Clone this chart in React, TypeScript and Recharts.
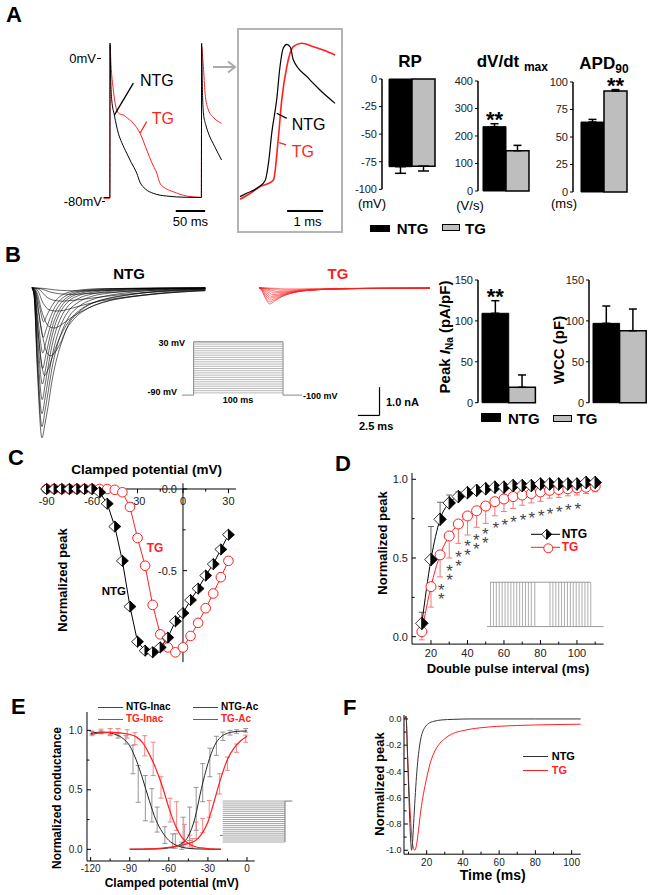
import React from "react";
import {
  ComposedChart,
  BarChart,
  Bar,
  Line,
  Scatter,
  XAxis,
  YAxis,
  ErrorBar,
  ReferenceLine,
  LabelList,
} from "recharts";

const FONT = "'Liberation Sans', Arial, Helvetica, sans-serif";
const RED = "#ff1f1f";
const PINK = "#f07878";
const BAR_GRAY = "#bebebe";

type P = [number, number];
const pts = (a: P[]) => a.map(([x, y]) => ({ x, y }));
const errPts = (a: number[][]) => a.map(([x, y, e]) => ({ x, y, e }));

// ---------- A: action potentials (ms, mV) ----------
const apNtg: P[] = [[-11, -77.5], [-0.3, -77.5], [0, 8.3], [1, -10], [2.9, -23.3], [7.3, -31.7], [14.1, -41.8], [20, -47], [28.4, -52.9], [36, -58], [45.5, -64], [51, -69], [60, -72.7], [73.8, -75.2], [96.6, -76.7], [130.7, -77.4], [155.6, -77.5], [156, 8.2], [157, -12], [159, -30.5], [163, -37], [167.5, -41.7], [178, -49], [190, -56.7]];
const apTg: P[] = [[-11, -78], [-0.3, -78], [0, 7], [1.7, -3.9], [5.6, -17.8], [11.4, -28.9], [16, -31], [22.7, -31.7], [30, -33.5], [39.7, -36.3], [51.1, -41.8], [62.5, -51.1], [71, -58], [79.6, -64], [85.2, -69.6], [95, -72.5], [107.8, -74.3], [130.7, -76.7], [155.6, -77.4], [156, 6.3], [159, -4.8], [161.8, -19.4], [167.5, -28.9], [177, -33.3], [190, -36.3]];
const insetNtg: P[] = [[0, -77], [0.2, -75], [0.5, -72], [0.7, -68], [0.8, -57], [0.88, -42], [1.02, -23], [1.11, -5], [1.2, 5.4], [1.3, 7.6], [1.4, 6], [1.48, -1], [1.86, -10.4], [2.22, -17.8], [2.64, -25.2]];
const insetTg: P[] = [[0, -78.5], [0.3, -75], [0.6, -71], [0.75, -70], [0.93, -67.8], [1.06, -45.6], [1.16, -23.3], [1.3, -4.8], [1.48, 6.3], [1.71, 8.2], [2.04, 6.3], [2.31, 4.4], [2.64, 1.7]];

// bar summaries [NTG, TG]
const rpValues = [-79.5, -79];
const rpErrors = [6, 4.4];
const dvdtValues = [234, 146.5];
const dvdtErrors = [10.7, 19.5];
const apdValues = [63.6, 91.8];
const apdErrors = [2.4, 1.3];
const peakValues = [109.3, 18.8];
const peakErrors = [15.4, 15.1];
const wccValues = [97, 88];
const wccErrors = [21.2, 26.5];

// ---------- B: Na current families (ms, nA) ----------
const ntgCurrents: P[][] = [
  [[0, 0], [0.25, -0.3], [0.6, -2.8], [1.15, -5.3], [1.5, -4.8], [1.85, -4.2], [2.3, -3.3], [2.9, -2.45], [3.5, -1.85], [4.2, -1.3], [5.4, -0.86], [6.9, -0.55], [8.8, -0.38], [10.8, -0.27], [13, -0.17], [16, -0.08], [20, -0.03]],
  [[0, 0], [0.25, -0.28], [0.6, -2.6], [1.15, -4.9], [1.5, -4.35], [1.85, -3.7], [2.3, -2.85], [2.9, -2.05], [3.5, -1.5], [4.2, -1.05], [5.4, -0.66], [6.9, -0.42], [8.8, -0.27], [10.8, -0.18], [13, -0.11], [16, -0.05], [20, -0.02]],
  [[0, 0], [0.25, -0.25], [0.6, -2.35], [1.15, -4.45], [1.5, -3.9], [1.85, -3.25], [2.3, -2.45], [2.9, -1.7], [3.5, -1.2], [4.2, -0.82], [5.4, -0.5], [6.9, -0.3], [8.8, -0.19], [10.8, -0.12], [13, -0.07], [16, -0.03], [20, -0.01]],
  [[0, 0], [0.25, -0.22], [0.62, -2.05], [1.18, -3.95], [1.5, -3.45], [1.85, -2.8], [2.3, -2.05], [2.9, -1.38], [3.5, -0.95], [4.2, -0.63], [5.4, -0.37], [6.9, -0.22], [8.8, -0.13], [10.8, -0.08], [13, -0.05], [16, -0.02], [20, -0.01]],
  [[0, 0], [0.27, -0.2], [0.65, -1.75], [1.2, -3.4], [1.55, -2.9], [1.9, -2.3], [2.35, -1.65], [2.9, -1.1], [3.5, -0.74], [4.2, -0.48], [5.4, -0.27], [6.9, -0.16], [8.8, -0.09], [11, -0.05], [14, -0.02], [20, -0.01]],
  [[0, 0], [0.28, -0.17], [0.68, -1.45], [1.22, -2.85], [1.58, -2.4], [1.95, -1.88], [2.4, -1.32], [3, -0.86], [3.6, -0.56], [4.3, -0.36], [5.5, -0.2], [7, -0.11], [9, -0.06], [12, -0.03], [20, -0.01]],
  [[0, 0], [0.3, -0.14], [0.7, -1.15], [1.25, -2.3], [1.6, -1.92], [2, -1.48], [2.45, -1.02], [3.05, -0.65], [3.7, -0.42], [4.4, -0.27], [5.6, -0.14], [7.2, -0.08], [9.5, -0.04], [13, -0.02], [20, 0]],
  [[0, 0], [0.32, -0.1], [0.75, -0.85], [1.3, -1.75], [1.65, -1.45], [2.05, -1.1], [2.5, -0.76], [3.1, -0.48], [3.8, -0.3], [4.5, -0.19], [5.8, -0.1], [7.5, -0.05], [10, -0.025], [20, 0]],
  [[0, 0], [0.35, -0.07], [0.8, -0.58], [1.35, -1.2], [1.7, -0.98], [2.1, -0.74], [2.6, -0.5], [3.2, -0.31], [3.9, -0.19], [4.7, -0.12], [6, -0.06], [8, -0.03], [20, 0]],
  [[0, 0], [0.3, -0.18], [0.7, -1.55], [1.45, -3.1], [1.9, -2.85], [2.4, -2.4], [3, -1.9], [3.7, -1.45], [4.6, -1.05], [5.8, -0.72], [7.5, -0.48], [9.5, -0.32], [12, -0.21], [15, -0.12], [20, -0.05]],
  [[0, 0], [0.4, -0.15], [1, -1.3], [1.6, -2.2], [2.1, -2.4], [2.6, -2.3], [3.2, -2.0], [4, -1.45], [5, -1.05], [6.5, -0.72], [8.5, -0.48], [11, -0.33], [13, -0.25], [16, -0.15], [20, -0.08]],
  [[0, 0], [0.5, -0.12], [1.2, -0.9], [1.9, -1.35], [2.6, -1.42], [3.4, -1.3], [4.4, -1.08], [5.6, -0.85], [7.2, -0.62], [9, -0.45], [11.5, -0.32], [14, -0.23], [17, -0.15], [20, -0.1]],
  [[0, 0], [0.6, -0.08], [1.3, -0.55], [2, -0.78], [2.8, -0.82], [3.6, -0.8], [4.6, -0.72], [6, -0.6], [8, -0.46], [10.5, -0.34], [13, -0.25], [16, -0.17], [20, -0.1]],
  [[0, 0], [0.8, -0.05], [1.6, -0.3], [2.5, -0.44], [3.5, -0.47], [4.8, -0.44], [6.5, -0.38], [8.5, -0.3], [11, -0.22], [14, -0.15], [17, -0.1], [20, -0.07]],
  [[0, 0], [1, -0.03], [2, -0.14], [3.2, -0.21], [4.5, -0.23], [6.2, -0.21], [8.5, -0.17], [11, -0.13], [14.5, -0.09], [20, -0.05]],
  [[0, 0], [1.3, -0.02], [2.6, -0.07], [4, -0.1], [5.8, -0.11], [8, -0.1], [11, -0.08], [15, -0.05], [20, -0.03]],
];
const tgCurrents: P[][] = [
  [[0, 0], [0.3, -0.08], [0.75, -0.38], [1.23, -0.57], [1.8, -0.47], [2.6, -0.32], [3.6, -0.2], [5, -0.11], [7.5, -0.05], [12, -0.02], [19.7, -0.01]],
  [[0, 0], [0.3, -0.07], [0.75, -0.33], [1.25, -0.5], [1.85, -0.42], [2.7, -0.29], [3.8, -0.18], [5.2, -0.1], [8, -0.05], [12, -0.02], [19.7, -0.01]],
  [[0, 0], [0.32, -0.06], [0.8, -0.28], [1.3, -0.43], [1.9, -0.37], [2.8, -0.26], [4, -0.16], [5.5, -0.09], [8.5, -0.045], [13, -0.02], [19.7, -0.01]],
  [[0, 0], [0.35, -0.05], [0.85, -0.23], [1.35, -0.36], [2, -0.31], [3, -0.22], [4.2, -0.14], [6, -0.08], [9, -0.04], [13, -0.02], [19.7, -0.01]],
  [[0, 0], [0.4, -0.04], [0.9, -0.18], [1.45, -0.3], [2.2, -0.26], [3.3, -0.19], [4.6, -0.12], [6.5, -0.07], [9.5, -0.035], [14, -0.015], [19.7, -0.01]],
  [[0, 0], [0.45, -0.03], [1, -0.14], [1.6, -0.24], [2.4, -0.21], [3.6, -0.15], [5, -0.1], [7, -0.06], [10, -0.03], [15, -0.015], [19.7, -0.01]],
  [[0, 0], [0.5, -0.02], [1.15, -0.1], [1.8, -0.18], [2.7, -0.16], [4, -0.12], [5.6, -0.08], [8, -0.05], [11, -0.03], [16, -0.015], [19.7, -0.01]],
  [[0, 0], [0.6, -0.015], [1.3, -0.07], [2.1, -0.13], [3.1, -0.12], [4.5, -0.09], [6.5, -0.06], [9, -0.04], [13, -0.02], [19.7, -0.01]],
  [[0, 0], [0.8, -0.01], [1.6, -0.04], [2.5, -0.08], [3.6, -0.075], [5.2, -0.06], [7.5, -0.04], [11, -0.025], [15, -0.015], [19.7, -0.01]],
  [[0, 0], [1, -0.005], [2, -0.02], [3, -0.04], [4.3, -0.04], [6, -0.03], [9, -0.02], [14, -0.01], [19.7, -0.005]],
];
const vProtocolSteps = [-85, -80, -75, -70, -65, -60, -55, -50, -45, -40, -35, -30, -25, -20, -15, -10, -5, 0, 5, 10, 15, 20, 25, 30];
const vProtocolOutline: P[] = [[-13, -90], [0, -90], [0, 30], [100, 30], [100, -90], [121.4, -90]];

// ---------- C: I-V (mV, normalized) ----------
const cNtg: P[] = [[-90, 0], [-85, 0], [-80, 0], [-75, 0], [-70, 0], [-65, 0], [-60, 0], [-55, -0.02], [-50, -0.09], [-45, -0.23], [-40, -0.44], [-35, -0.72], [-30, -0.935], [-25, -0.99], [-20, -1.0], [-15, -0.97], [-10, -0.91], [-5, -0.81], [0, -0.76], [5, -0.68], [10, -0.61], [15, -0.53], [20, -0.46], [25, -0.37], [30, -0.28]];
const cTg: P[] = [[-90, 0], [-85, 0], [-80, 0], [-75, 0], [-70, 0], [-65, 0], [-60, 0], [-55, 0], [-50, 0], [-45, -0.005], [-40, -0.02], [-35, -0.11], [-30, -0.3], [-25, -0.47], [-20, -0.71], [-15, -0.89], [-10, -0.97], [-5, -1.0], [0, -0.97], [5, -0.9], [10, -0.82], [15, -0.73], [20, -0.64], [25, -0.54], [30, -0.44]];
const cTicksX = [-90, -60, -30, 0, 30];
const cMinorX = [-75, -45, -15, 15];
const cTicksY = [0, -0.5];
const cMinorY = [-0.25, -0.75];

// ---------- D: recovery (ms, normalized, sem) ----------
const dNtg = [[15, 0.085, 0.07], [20, 0.49, 0.21], [25, 0.746, 0.108], [30, 0.85, 0.05], [35, 0.89, 0.03], [40, 0.915, 0.02], [45, 0.93, 0.015], [50, 0.94, 0.015], [55, 0.95, 0.01], [60, 0.95, 0.01], [65, 0.96, 0.01], [70, 0.96, 0.01], [75, 0.96, 0.01], [80, 0.97, 0.01], [85, 0.97, 0.01], [90, 0.97, 0.01], [95, 0.97, 0.01], [100, 0.97, 0.01], [105, 0.98, 0.01], [110, 0.98, 0.01]];
const dTg = [[15, 0.032, 0.052], [20, 0.318, 0.13], [25, 0.52, 0.14], [30, 0.64, 0.14], [35, 0.716, 0.123], [40, 0.767, 0.121], [45, 0.8, 0.105], [50, 0.83, 0.11], [55, 0.858, 0.09], [60, 0.875, 0.08], [65, 0.89, 0.075], [70, 0.9, 0.065], [75, 0.91, 0.06], [80, 0.92, 0.06], [85, 0.93, 0.05], [90, 0.935, 0.05], [95, 0.94, 0.045], [100, 0.945, 0.045], [105, 0.95, 0.04], [110, 0.955, 0.035]];
const dStars = [[25.6, 0.29, 2], [30.2, 0.415, 2], [35.1, 0.5, 2], [40, 0.57, 2], [44.8, 0.61, 2], [49.8, 0.65, 2], [55.6, 0.716, 1], [60.5, 0.737, 1], [65.3, 0.752, 1], [70.5, 0.767, 1], [75.3, 0.78, 1], [80.5, 0.794, 1], [85.3, 0.805, 1], [90.3, 0.815, 1], [95.3, 0.83, 1], [100.5, 0.837, 1]];
const dPulseA = [3, 5.5, 8, 10.5, 13, 15.5, 18, 20.5, 23, 25.5, 28, 30.5, 33, 35.5, 38, 41];
const dPulseB = [54, 56.5, 59, 61.5, 64, 66.5, 69, 71.5, 74, 76.5, 79, 81.5, 84, 86.5, 89];

// ---------- E: steady-state curves (mV, normalized) ----------
const eNtgInac: P[] = [[-120, 0.975], [-115, 0.983], [-110, 0.985], [-105, 0.978], [-100, 0.962], [-95, 0.93], [-90, 0.87], [-85, 0.75], [-80, 0.59], [-75, 0.41], [-70, 0.25], [-65, 0.145], [-60, 0.075], [-55, 0.038], [-50, 0.018], [-45, 0.008], [-40, 0.004], [-30, 0.001], [-20, 0]];
const eTgInac: P[] = [[-120, 0.965], [-115, 0.975], [-110, 0.98], [-105, 0.982], [-100, 0.98], [-95, 0.975], [-90, 0.965], [-85, 0.945], [-80, 0.895], [-75, 0.8], [-70, 0.68], [-65, 0.53], [-60, 0.35], [-55, 0.2], [-50, 0.1], [-45, 0.05], [-40, 0.024], [-35, 0.012], [-30, 0.006], [-25, 0.003], [-20, 0.001]];
const eNtgAc: P[] = [[-90, 0], [-80, 0.001], [-70, 0.003], [-65, 0.006], [-60, 0.012], [-55, 0.025], [-50, 0.05], [-45, 0.11], [-40, 0.26], [-35, 0.51], [-30, 0.72], [-25, 0.87], [-20, 0.945], [-15, 0.975], [-10, 0.988], [-5, 0.993], [0, 0.995]];
const eTgAc: P[] = [[-90, 0.002], [-80, 0.003], [-70, 0.006], [-65, 0.01], [-60, 0.016], [-55, 0.025], [-50, 0.035], [-45, 0.05], [-40, 0.07], [-35, 0.125], [-30, 0.23], [-25, 0.41], [-20, 0.6], [-15, 0.755], [-10, 0.85], [-5, 0.91], [0, 0.95]];
const eNtgInacErr = [[-119, 0.98, 0.01], [-112, 0.985, 0.01], [-105, 0.97, 0.015], [-99, 0.955, 0.02], [-93, 0.92, 0.035], [-87.5, 0.755, 0.12], [-83.5, 0.55, 0.155], [-78, 0.43, 0.19], [-73, 0.37, 0.14], [-69, 0.25, 0.105], [-63, 0.12, 0.07], [-57, 0.07, 0.06], [-50, 0.03, 0.03]];
const eTgInacErr = [[-119, 0.975, 0.02], [-112, 0.99, 0.02], [-105, 0.99, 0.025], [-99, 0.985, 0.03], [-92, 0.97, 0.035], [-86, 0.93, 0.05], [-78.5, 0.87, 0.085], [-72, 0.76, 0.14], [-66, 0.52, 0.09], [-59, 0.33, 0.1], [-54, 0.28, 0.12], [-48, 0.13, 0.08], [-42, 0.05, 0.04]];
const eNtgAcErr = [[-55, 0.07, 0.06], [-49, 0.145, 0.125], [-44, 0.215, 0.14], [-39, 0.34, 0.18], [-34, 0.56, 0.16], [-28.5, 0.73, 0.12], [-23.5, 0.87, 0.08], [-18.5, 0.95, 0.035], [-13, 0.98, 0.02], [-8, 0.99, 0.015], [-1, 1.0, 0.015]];
const eTgAcErr = [[-44, 0.07, 0.05], [-39, 0.16, 0.07], [-34, 0.2, 0.06], [-29, 0.34, 0.07], [-21, 0.55, 0.085], [-15, 0.72, 0.056], [-8, 0.85, 0.035], [-1, 0.93, 0.03]];
const eProtocolLevels = [0, 0.05, 0.1, 0.15, 0.2, 0.25, 0.3, 0.35, 0.4, 0.45, 0.5, 0.55, 0.6, 0.65, 0.7, 0.75, 0.8, 0.85, 0.9, 0.95, 1];

// ---------- F: averaged current (ms, normalized) ----------
const fNtg: P[] = [[8, 0], [8.6, 0.02], [9.5, -0.3], [10.5, -0.7], [11.2, -0.93], [11.7, -1.0], [12.3, -0.92], [13, -0.75], [13.8, -0.56], [14.6, -0.4], [15.5, -0.27], [16.5, -0.17], [17.5, -0.11], [19, -0.065], [21, -0.035], [24, -0.018], [28, -0.008], [35, -0.003], [45, 0], [60, 0], [80, 0], [105, 0]];
const fTg: P[] = [[8, 0], [8.6, 0.02], [9.5, -0.28], [10.5, -0.6], [11.5, -0.84], [12.5, -0.97], [13.5, -1.0], [14.5, -0.95], [15.5, -0.85], [16.3, -0.75], [17.5, -0.63], [19.1, -0.51], [20.5, -0.42], [21.8, -0.345], [24, -0.26], [27.3, -0.185], [30, -0.15], [34.7, -0.11], [40, -0.089], [44, -0.078], [50, -0.067], [58.6, -0.057], [70, -0.05], [80, -0.046], [90, -0.043], [105, -0.04]];
const fTicksY = [-1, -0.8, -0.6, -0.4, -0.2, 0];
const fMinorY = [-0.9, -0.7, -0.5, -0.3, -0.1];

// ---------- helpers ----------
function T({ x, y, s = 12, b = false, c = "#000", a = "start", children }: any) {
  const tx = a === "middle" ? "-50%" : a === "end" ? "-100%" : "0";
  return (
    <div style={{ position: "absolute", left: x, top: y - 0.49 * s, fontSize: s, lineHeight: `${s}px`, fontWeight: b ? "bold" : "normal", color: c, whiteSpace: "nowrap", transform: `translateX(${tx})` }}>
      {children}
    </div>
  );
}

function RT({ x, y, s = 13, children }: any) {
  return (
    <div style={{ position: "absolute", left: x, top: y, fontSize: s, lineHeight: `${s}px`, fontWeight: "bold", whiteSpace: "nowrap", transform: "translate(-50%,-50%) rotate(-90deg)" }}>
      {children}
    </div>
  );
}

function HLine({ x, y, w, c = "#000", h = 1 }: any) {
  return <div style={{ position: "absolute", left: x, top: y - h / 2, width: w, height: h, background: c }} />;
}

function HalfDiamond({ cx, cy, w = 6, h = 6 }: any) {
  if (cx == null || cy == null) return null;
  return (
    <g>
      <polygon points={`${cx},${cy - h} ${cx - w},${cy} ${cx},${cy + h}`} fill="#fff" stroke="#000" strokeWidth={0.8} />
      <polygon points={`${cx},${cy - h} ${cx + w},${cy} ${cx},${cy + h}`} fill="#000" stroke="#000" strokeWidth={0.8} />
    </g>
  );
}

function OpenCircle({ cx, cy, r = 5 }: any) {
  if (cx == null || cy == null) return null;
  return <circle cx={cx} cy={cy} r={r} fill="#fff" stroke={RED} strokeWidth={1} />;
}

const findMajor = (arr: number[], v: number, tol: number) => arr.find((m) => Math.abs(m - v) < tol);

function xTick(axisY: number, major: number[], tol: number, fs: number, lab: number, fmt: (v: number) => string) {
  return (p: any) => {
    const m = findMajor(major, Number(p.payload.value), tol);
    const big = m !== undefined;
    return (
      <g>
        <line x1={p.x} x2={p.x} y1={axisY} y2={axisY - (big ? 4 : 2.5)} stroke="#000" strokeWidth={1} />
        {big ? (
          <text x={p.x} y={axisY + lab} textAnchor="middle" fontSize={fs} fill="#222" fontFamily={FONT}>
            {fmt(m as number)}
          </text>
        ) : null}
      </g>
    );
  };
}

function yTick(axisX: number, major: number[], tol: number, fs: number, gap: number, fmt: (v: number) => string) {
  return (p: any) => {
    const m = findMajor(major, Number(p.payload.value), tol);
    const big = m !== undefined;
    return (
      <g>
        <line x1={axisX} x2={axisX + (big ? 4 : 2.5)} y1={p.y} y2={p.y} stroke="#000" strokeWidth={1} />
        {big ? (
          <text x={axisX - gap} y={p.y + fs * 0.36} textAnchor="end" fontSize={fs} fill="#222" fontFamily={FONT}>
            {fmt(m as number)}
          </text>
        ) : null}
      </g>
    );
  };
}

// chart with hidden axes; plot area placed at (left, top), padded so marks may overflow
function Plot({ left, top, w, h, xd, yd, pad = 14, children }: any) {
  return (
    <div style={{ position: "absolute", left: left - pad, top: top - pad }}>
      <ComposedChart width={w + 2 * pad} height={h + 2 * pad} margin={{ top: pad, right: pad, bottom: pad, left: pad }}>
        <XAxis type="number" dataKey="x" domain={xd} hide />
        <YAxis type="number" domain={yd} hide />
        {children}
      </ComposedChart>
    </div>
  );
}

function BarPanel({ x, y, w, h, domain, ticks, values, errors, sigs = ["", ""], sigOffset = [0, 0], barSize, down = false, capW = 4 }: any) {
  const yw = 30;
  const mt = 24;
  const mb = 8;
  const mr = 3;
  const data = [
    {
      g: "v",
      ntg: values[0],
      tg: values[1],
      ntgErr: down ? [errors[0], 0] : [0, errors[0]],
      tgErr: down ? [errors[1], 0] : [0, errors[1]],
      ntgSig: sigs[0],
      tgSig: sigs[1],
    },
  ];
  return (
    <div style={{ position: "absolute", left: x - yw, top: y - mt }}>
      <BarChart width={yw + w + mr} height={h + mt + mb} data={data} margin={{ top: mt, right: mr, bottom: mb, left: 0 }} barGap={0}>
        <XAxis dataKey="g" orientation={down ? "top" : "bottom"} height={0} tick={false} tickLine={false} axisLine={{ stroke: "#000", strokeWidth: 1.5 }} />
        <YAxis type="number" domain={domain} ticks={ticks} interval={0} width={yw} tickSize={3} tickMargin={2} tick={{ fontSize: 11, fill: "#222", fontFamily: FONT }} axisLine={{ stroke: "#000", strokeWidth: 1.5 }} tickLine={{ stroke: "#000" }} />
        <Bar dataKey="ntg" fill="#000" stroke="#000" strokeWidth={1} barSize={barSize} isAnimationActive={false}>
          <ErrorBar dataKey="ntgErr" width={capW} stroke="#000" strokeWidth={1.5} direction="y" />
          <LabelList dataKey="ntgSig" position="top" offset={sigOffset[0]} fontSize={22} fontWeight="bold" fill="#000" fontFamily={FONT} />
        </Bar>
        <Bar dataKey="tg" fill={BAR_GRAY} stroke="#000" strokeWidth={1.5} barSize={barSize} isAnimationActive={false}>
          <ErrorBar dataKey="tgErr" width={capW} stroke="#000" strokeWidth={1.5} direction="y" />
          <LabelList dataKey="tgSig" position="top" offset={sigOffset[1]} fontSize={22} fontWeight="bold" fill="#000" fontFamily={FONT} />
        </Bar>
      </BarChart>
    </div>
  );
}

const textMark = (dx: number, dy: number, anchor: string, fs: number, color = "#222") => (p: any) => (
  <text x={p.cx + dx} y={p.cy + dy} textAnchor={anchor} fontSize={fs} fill={color} fontFamily={FONT}>
    {p.payload.label}
  </text>
);

// significance marks: stacked pair or single asterisk, one text element each
const StarMark = (p: any) => {
  const fs = 17;
  const off = fs * 0.58;
  const two = p.payload.n === 2;
  return (
    <text x={p.cx} y={p.cy + off - (two ? 4.5 : 0)} textAnchor="middle" fontSize={fs} fill="#444" fontFamily={FONT}>
      <tspan x={p.cx}>*</tspan>
      {two ? (
        <tspan x={p.cx} dy={9}>
          *
        </tspan>
      ) : null}
    </text>
  );
};

const fmt1 = (v: number) => v.toFixed(1);
const fmt0 = (v: number) => String(v);
const seg = (x1: number, y1: number, x2: number, y2: number) => [{ x: x1, y: y1 }, { x: x2, y: y2 }];
const noShape = () => <g />;

export default function App() {
  return (
    <div style={{ position: "absolute", left: 0, top: 0, width: 662, height: 895, background: "#fff", fontFamily: FONT, overflow: "hidden" }}>
      {/* panel letters */}
      <T x={6} y={15} s={22} b>A</T>
      <T x={5} y={255} s={22} b>B</T>
      <T x={8} y={458} s={22} b>C</T>
      <T x={335} y={464} s={22} b>D</T>
      <T x={11} y={707} s={22} b>E</T>
      <T x={343} y={708} s={22} b>F</T>

      {/* ===== A: action potentials ===== */}
      <Plot left={102.96} top={40} w={119.75} h={180} xd={[-12, 192]} yd={[-90, 10]}>
        <Line data={pts(apTg)} dataKey="y" type="monotone" stroke={RED} strokeWidth={1} dot={false} isAnimationActive={false} />
        <Line data={pts(apNtg)} dataKey="y" type="monotone" stroke="#000" strokeWidth={1} dot={false} isAnimationActive={false} />
        <ReferenceLine segment={seg(7.3, -31.7, 39.7, -14)} stroke="#000" strokeWidth={1.3} ifOverflow="visible" />
        <ReferenceLine segment={seg(51.1, -41.8, 62.5, -35.3)} stroke={RED} strokeWidth={1.3} ifOverflow="visible" />
        <ReferenceLine segment={seg(112, -85, 162, -85)} stroke="#000" strokeWidth={2} ifOverflow="visible" />
      </Plot>
      <T x={96} y={58} s={13} a="end">0mV</T>
      <HLine x={97} y={58} w={4} />
      <T x={102} y={201.7} s={13} a="end">-80mV</T>
      <HLine x={102} y={201.7} w={3} />
      <T x={140} y={81} s={16}>NTG</T>
      <T x={151.7} y={119.3} s={16} c={RED}>TG</T>
      <T x={190.4} y={221.7} s={13} a="middle">50 ms</T>

      {/* arrow + inset box */}
      <svg style={{ position: "absolute", left: 213, top: 60 }} width={24} height={14}>
        <line x1={0} y1={7} x2={22} y2={7} stroke="#aaa" strokeWidth={2} />
        <polyline points="15,1.5 22,7 15,12.5" fill="none" stroke="#aaa" strokeWidth={2} />
      </svg>
      <div style={{ position: "absolute", left: 236.7, top: 28.3, width: 106.6, height: 204.4, border: "2px solid #b4b4b4", boxSizing: "border-box" }} />
      <Plot left={240} top={40} w={97.2} h={180} xd={[0, 2.7]} yd={[-90, 10]} pad={2}>
        <Line data={pts(insetTg)} dataKey="y" type="monotone" stroke={RED} strokeWidth={1.6} dot={false} isAnimationActive={false} />
        <Line data={pts(insetNtg)} dataKey="y" type="monotone" stroke="#000" strokeWidth={1.2} dot={false} isAnimationActive={false} />
        <ReferenceLine segment={seg(1.02, -30.7, 1.3, -33.5)} stroke="#000" strokeWidth={1.3} ifOverflow="visible" />
        <ReferenceLine segment={seg(1.09, -47, 1.28, -48.3)} stroke={RED} strokeWidth={1.3} ifOverflow="visible" />
        <ReferenceLine segment={seg(1.31, -85, 2.31, -85)} stroke="#000" strokeWidth={2} ifOverflow="visible" />
      </Plot>
      <T x={291.7} y={125} s={16}>NTG</T>
      <T x={291.7} y={151.7} s={16} c={RED}>TG</T>
      <T x={307.5} y={221.7} s={13} a="middle">1 ms</T>

      {/* A bars */}
      <T x={410} y={61.7} s={17} b a="middle">RP</T>
      <T x={476.7} y={61.7} s={17} b>
        dV/dt <span style={{ fontSize: 12, verticalAlign: "-0.35em" }}>max</span>
      </T>
      <T x={579.3} y={63} s={17} b>
        APD<span style={{ fontSize: 12, verticalAlign: "-0.35em" }}>90</span>
      </T>
      <BarPanel x={381.7} y={79} w={60} h={110.3} domain={[-100, 0]} ticks={[0, -25, -50, -75, -100]} values={rpValues} errors={rpErrors} barSize={23} down capW={5.5} />
      <BarPanel x={478.3} y={81} w={56.7} h={110} domain={[0, 400]} ticks={[0, 100, 200, 300, 400]} values={dvdtValues} errors={dvdtErrors} sigs={["**", ""]} sigOffset={[0, 0]} barSize={23} />
      <BarPanel x={573.3} y={81.7} w={61.7} h={110} domain={[0, 100]} ticks={[0, 25, 50, 75, 100]} values={apdValues} errors={apdErrors} sigs={["", "**"]} sigOffset={[0, -2]} barSize={23} />
      <T x={372} y={203.3} s={13} a="middle">(mV)</T>
      <T x={470} y={205} s={13} a="middle">(V/s)</T>
      <T x={564} y={203} s={13} a="middle">(ms)</T>
      <div style={{ position: "absolute", left: 370, top: 225, width: 20, height: 6.5, background: "#000" }} />
      <T x={396.7} y={228.3} s={15} b>NTG</T>
      <div style={{ position: "absolute", left: 441.7, top: 223.5, width: 18, height: 7, background: BAR_GRAY, border: "1px solid #000", boxSizing: "border-box" }} />
      <T x={465} y={228.3} s={15} b>TG</T>

      {/* ===== B: currents ===== */}
      <T x={129} y={273} s={15} b a="middle">NTG</T>
      <T x={338} y={273} s={15} b c={RED} a="middle">TG</T>
      <Plot left={31.7} top={284.5} w={173.4} h={158.5} xd={[0, 20]} yd={[-5.5, 0.1]}>
        {ntgCurrents.map((tr, i) => (
          <Line key={`n${i}`} data={pts(tr)} dataKey="y" type="monotone" stroke="#000" strokeWidth={0.6} dot={false} isAnimationActive={false} />
        ))}
      </Plot>
      <Plot left={259.3} top={284.5} w={173.4} h={133} xd={[0, 20]} yd={[-4.6, 0.1]}>
        {tgCurrents.map((tr, i) => (
          <Line key={`t${i}`} data={pts(tr)} dataKey="y" type="monotone" stroke={RED} strokeWidth={0.6} dot={false} isAnimationActive={false} />
        ))}
        <ReferenceLine segment={seg(13.9, -3.51, 13.9, -4.51)} stroke="#000" strokeWidth={1.2} ifOverflow="visible" />
        <ReferenceLine segment={seg(11.4, -4.51, 13.9, -4.51)} stroke="#000" strokeWidth={1.2} ifOverflow="visible" />
      </Plot>
      <T x={386} y={402.7} s={11} b>1.0 nA</T>
      <T x={359} y={426} s={11} b>2.5 ms</T>

      {/* voltage protocol */}
      <Plot left={181.7} top={340.8} w={120.2} h={55} xd={[-13, 121.4]} yd={[-92, 32]} pad={3}>
        {vProtocolSteps.map((v) => (
          <ReferenceLine key={`v${v}`} segment={seg(0, v, 100, v)} stroke="#9a9a9a" strokeWidth={0.7} ifOverflow="visible" />
        ))}
        <Line data={pts(vProtocolOutline)} dataKey="y" type="linear" stroke="#888" strokeWidth={1} dot={false} isAnimationActive={false} />
      </Plot>
      <T x={185} y={343.3} s={9} b a="end">30 mV</T>
      <T x={177} y={392.7} s={9} b a="end">-90 mV</T>
      <T x={303} y={396} s={9} b>-100 mV</T>
      <T x={238} y={400} s={9} b a="middle">100 ms</T>

      {/* B bars */}
      <BarPanel x={478.3} y={280} w={61.7} h={122.7} domain={[0, 150]} ticks={[0, 50, 100, 150]} values={peakValues} errors={peakErrors} sigs={["**", ""]} sigOffset={[9, 0]} barSize={26.7} />
      <BarPanel x={589} y={280} w={61} h={122.7} domain={[0, 150]} ticks={[0, 50, 100, 150]} values={wccValues} errors={wccErrors} barSize={26.6} />
      <RT x={446.7} y={336.7} s={15}>
        Peak <i>I</i>
        <span style={{ fontSize: 10, verticalAlign: "-0.3em" }}>Na</span> (pA/pF)
      </RT>
      <RT x={558.3} y={350} s={15}>WCC (pF)</RT>
      <div style={{ position: "absolute", left: 481, top: 413.3, width: 20, height: 8.4, background: "#000" }} />
      <T x={508} y={418} s={15} b>NTG</T>
      <div style={{ position: "absolute", left: 553.3, top: 415, width: 18.4, height: 7, background: BAR_GRAY, border: "1px solid #000", boxSizing: "border-box" }} />
      <T x={576.7} y={418} s={15} b>TG</T>

      {/* ===== C: I-V ===== */}
      <T x={146.7} y={470} s={13.5} b a="middle">Clamped potential (mV)</T>
      <RT x={61.7} y={580} s={13}>Normalized peak</RT>
      <Plot left={43} top={489} w={193} h={173.1} xd={[-92.4, 35]} yd={[-1.06, 0]} pad={16}>
        <ReferenceLine segment={seg(-92.4, 0, 35, 0)} stroke="#000" strokeWidth={1} ifOverflow="visible" />
        <ReferenceLine segment={seg(0, -1.06, 0, 0.035)} stroke="#000" strokeWidth={1} ifOverflow="visible" />
        {cTicksX.map((v) => (
          <ReferenceLine key={`cx${v}`} segment={seg(v, 0, v, -0.026)} stroke="#000" ifOverflow="visible" />
        ))}
        {cMinorX.map((v) => (
          <ReferenceLine key={`cm${v}`} segment={seg(v, 0, v, -0.016)} stroke="#000" ifOverflow="visible" />
        ))}
        {cTicksY.map((v) => (
          <ReferenceLine key={`cy${v}`} segment={seg(0, v, 2.7, v)} stroke="#000" ifOverflow="visible" />
        ))}
        {cMinorY.map((v) => (
          <ReferenceLine key={`cn${v}`} segment={seg(0, v, 1.7, v)} stroke="#000" ifOverflow="visible" />
        ))}
        <Scatter data={cTicksX.map((v) => ({ x: v, y: 0, label: String(v) }))} dataKey="y" shape={textMark(0, 16.5, "middle", 11)} isAnimationActive={false} />
        <Scatter data={cTicksY.map((v) => ({ x: 0, y: v, label: v.toFixed(1) }))} dataKey="y" shape={textMark(-6, 4, "end", 11)} isAnimationActive={false} />
        <Line data={pts(cTg)} dataKey="y" type="linear" stroke={RED} strokeWidth={1} dot={(p: any) => <OpenCircle key={`ct${p.index}`} cx={p.cx} cy={p.cy} r={4.8} />} isAnimationActive={false} />
        <Line data={pts(cNtg)} dataKey="y" type="linear" stroke="#000" strokeWidth={1} dot={(p: any) => <HalfDiamond key={`cn${p.index}`} cx={p.cx} cy={p.cy} w={6} h={5.5} />} isAnimationActive={false} />
      </Plot>
      <T x={146.7} y={548.3} s={12} b c={RED}>TG</T>
      <T x={101.7} y={591.7} s={11.5} b>NTG</T>

      {/* ===== D: recovery ===== */}
      <RT x={381.7} y={543} s={13}>Normalized peak</RT>
      <T x={508} y={668} s={13} b a="middle">Double pulse interval (ms)</T>
      <div style={{ position: "absolute", left: 381.7, top: 469 }}>
        <ComposedChart width={227.6} height={195.1} margin={{ top: 4, right: 6, bottom: 0, left: 0 }}>
          <XAxis type="number" dataKey="x" domain={[9.6, 114.6]} ticks={[20, 30, 40, 50, 60, 70, 80, 90, 100, 110]} interval={0} height={20} tickLine={false} axisLine={{ stroke: "#000" }} tick={xTick(175.1, [20, 40, 60, 80, 100], 3, 11, 13.2, fmt0)} />
          <YAxis type="number" domain={[-0.047, 1.04]} ticks={[0, 0.25, 0.5, 0.75, 1]} interval={0} width={30} tickLine={false} axisLine={{ stroke: "#000" }} tick={yTick(30, [0, 0.5, 1], 0.08, 11, 4, fmt1)} />
          <Line data={errPts(dTg)} dataKey="y" type="monotone" stroke={RED} strokeWidth={1} dot={(p: any) => <OpenCircle key={`dt${p.index}`} cx={p.cx} cy={p.cy} r={5} />} isAnimationActive={false}>
            <ErrorBar dataKey={(d: any) => [d.e, 0]} width={3} stroke={PINK} strokeWidth={1} direction="y" />
          </Line>
          <Line data={errPts(dNtg)} dataKey="y" type="monotone" stroke="#000" strokeWidth={1} dot={(p: any) => <HalfDiamond key={`dn${p.index}`} cx={p.cx} cy={p.cy} w={6.3} h={6.3} />} isAnimationActive={false}>
            <ErrorBar dataKey={(d: any) => [0, d.e]} width={3} stroke="#666" strokeWidth={1} direction="y" />
          </Line>
          <Scatter data={dStars.map(([x, y, n]) => ({ x, y, n }))} dataKey="y" shape={StarMark} isAnimationActive={false} />
        </ComposedChart>
      </div>
      <svg style={{ position: "absolute", left: 531, top: 528 }} width={31} height={26}>
        <line x1={0} x2={29} y1={6.3} y2={6.3} stroke="#000" strokeWidth={1} />
        <HalfDiamond cx={15.7} cy={6.3} w={5} h={5} />
        <line x1={0} x2={29} y1={19.3} y2={19.3} stroke={RED} strokeWidth={1} />
        <OpenCircle cx={17.3} cy={20.3} r={4.5} />
      </svg>
      <T x={561.7} y={534.3} s={12} b>NTG</T>
      <T x={561.7} y={547.3} s={12} b c={RED}>TG</T>
      <Plot left={486.7} top={580.1} w={116.6} h={48.8} xd={[0, 100]} yd={[-0.05, 1.05]} pad={2}>
        <Line data={pts([[0, 0], [100, 0]])} dataKey="y" type="linear" stroke="#999" strokeWidth={1} dot={false} isAnimationActive={false} />
        <Line data={pts([[2.8, 1], [88.6, 1]])} dataKey="y" type="linear" stroke="#999" strokeWidth={1} dot={false} isAnimationActive={false} />
        {dPulseA.concat(dPulseB).map((v) => (
          <ReferenceLine key={`dp${v}`} segment={seg(v, 0, v, 1)} stroke="#999" strokeWidth={0.8} ifOverflow="visible" />
        ))}
      </Plot>

      {/* ===== E: activation / inactivation ===== */}
      <RT x={56.7} y={797.5} s={12}>Normalized conductance</RT>
      <T x={171.7} y={882.7} s={12} b a="middle">Clamped potential (mV)</T>
      <div style={{ position: "absolute", left: 57.3, top: 707.7 }}>
        <ComposedChart width={202.7} height={175} margin={{ top: 4, right: 5, bottom: 0, left: 0 }}>
          <XAxis type="number" dataKey="x" domain={[-122.8, 5.9]} ticks={[-120, -105, -90, -75, -60, -45, -30, -15, 0]} interval={0} height={22} tickLine={false} axisLine={{ stroke: "#000" }} tick={xTick(153, [-120, -90, -60, -30, 0], 5, 10, 11.3, fmt0)} />
          <YAxis type="number" domain={[-0.098, 1.154]} ticks={[0, 0.25, 0.5, 0.75, 1]} interval={0} width={30} tickLine={false} axisLine={{ stroke: "#000" }} tick={yTick(30, [0, 0.5, 1], 0.08, 10, 4.3, fmt1)} />
          <Scatter data={errPts(eNtgInacErr)} dataKey="y" shape={noShape} isAnimationActive={false}>
            <ErrorBar dataKey="e" width={2.5} stroke="#8a8a8a" strokeWidth={0.9} direction="y" />
          </Scatter>
          <Scatter data={errPts(eNtgAcErr)} dataKey="y" shape={noShape} isAnimationActive={false}>
            <ErrorBar dataKey="e" width={2.5} stroke="#8a8a8a" strokeWidth={0.9} direction="y" />
          </Scatter>
          <Scatter data={errPts(eTgInacErr)} dataKey="y" shape={noShape} isAnimationActive={false}>
            <ErrorBar dataKey="e" width={2.5} stroke={PINK} strokeWidth={0.9} direction="y" />
          </Scatter>
          <Scatter data={errPts(eTgAcErr)} dataKey="y" shape={noShape} isAnimationActive={false}>
            <ErrorBar dataKey="e" width={2.5} stroke={PINK} strokeWidth={0.9} direction="y" />
          </Scatter>
          <Line data={pts(eNtgInac)} dataKey="y" type="monotone" stroke="#222" strokeWidth={1} dot={false} isAnimationActive={false} />
          <Line data={pts(eNtgAc)} dataKey="y" type="monotone" stroke="#222" strokeWidth={1} dot={false} isAnimationActive={false} />
          <Line data={pts(eTgInac)} dataKey="y" type="monotone" stroke={RED} strokeWidth={1.2} dot={false} isAnimationActive={false} />
          <Line data={pts(eTgAc)} dataKey="y" type="monotone" stroke={RED} strokeWidth={1.2} dot={false} isAnimationActive={false} />
        </ComposedChart>
      </div>
      <HLine x={98} y={707} w={25} c="#444" />
      <T x={126} y={707} s={10} b>NTG-Inac</T>
      <HLine x={98} y={719} w={25} c={RED} />
      <T x={126} y={719} s={10} b c={RED}>TG-Inac</T>
      <HLine x={193} y={707} w={25} c="#444" />
      <T x={221} y={707} s={10} b>NTG-Ac</T>
      <HLine x={193} y={719} w={25} c={RED} />
      <T x={221} y={719} s={10} b c={RED}>TG-Ac</T>
      <Plot left={220} top={798.65} w={72.3} h={44.28} xd={[0, 100]} yd={[-0.03, 1.05]} pad={2}>
        {eProtocolLevels.map((v) => (
          <ReferenceLine key={`ep${v}`} segment={seg(3.7, v, 89.9, v)} stroke="#8c8c8c" strokeWidth={0.8} ifOverflow="visible" />
        ))}
        <Line data={pts([[89.9, 0], [89.9, 1], [100, 1]])} dataKey="y" type="linear" stroke="#777" strokeWidth={1} dot={false} isAnimationActive={false} />
        <Line data={pts([[0, 0.16], [3.7, 0.16]])} dataKey="y" type="linear" stroke="#777" strokeWidth={1} dot={false} isAnimationActive={false} />
      </Plot>

      {/* ===== F: averaged traces ===== */}
      <RT x={378.5} y={784} s={13}>Normalized peak</RT>
      <T x={492.7} y={875} s={14} b a="middle">Time (ms)</T>
      <div style={{ position: "absolute", left: 374, top: 711.4 }}>
        <ComposedChart width={211.7} height={165.2} margin={{ top: 4, right: 5, bottom: 0, left: 0 }}>
          <XAxis type="number" dataKey="x" domain={[7.5, 105]} ticks={[10, 20, 30, 40, 50, 60, 70, 80, 90, 100]} interval={0} height={22} tickLine={false} axisLine={{ stroke: "#000" }} tick={xTick(143.2, [20, 40, 60, 80, 100], 3, 10, 11.7, fmt0)} />
          <YAxis type="number" domain={[-1.03, 0.03]} width={30} tick={false} tickLine={false} axisLine={{ stroke: "#000" }} />
          {fTicksY.map((v) => (
            <ReferenceLine key={`ft${v}`} segment={seg(7.5, v, 9.7, v)} stroke="#000" ifOverflow="visible" />
          ))}
          {fMinorY.map((v) => (
            <ReferenceLine key={`fm${v}`} segment={seg(7.5, v, 8.9, v)} stroke="#000" ifOverflow="visible" />
          ))}
          <Scatter data={fTicksY.map((v) => ({ x: 7.5, y: v, label: v.toFixed(1) }))} dataKey="y" shape={textMark(-2.5, 3.2, "end", 9)} isAnimationActive={false} />
          <Line data={pts(fTg)} dataKey="y" type="monotone" stroke={RED} strokeWidth={1} dot={false} isAnimationActive={false} />
          <Line data={pts(fNtg)} dataKey="y" type="monotone" stroke="#333" strokeWidth={1} dot={false} isAnimationActive={false} />
        </ComposedChart>
      </div>
      <HLine x={523} y={756} w={25} c="#333" />
      <T x={551.7} y={756} s={11} b>NTG</T>
      <HLine x={523} y={770} w={25} c={RED} />
      <T x={551.7} y={770} s={11} b c={RED}>TG</T>
    </div>
  );
}
